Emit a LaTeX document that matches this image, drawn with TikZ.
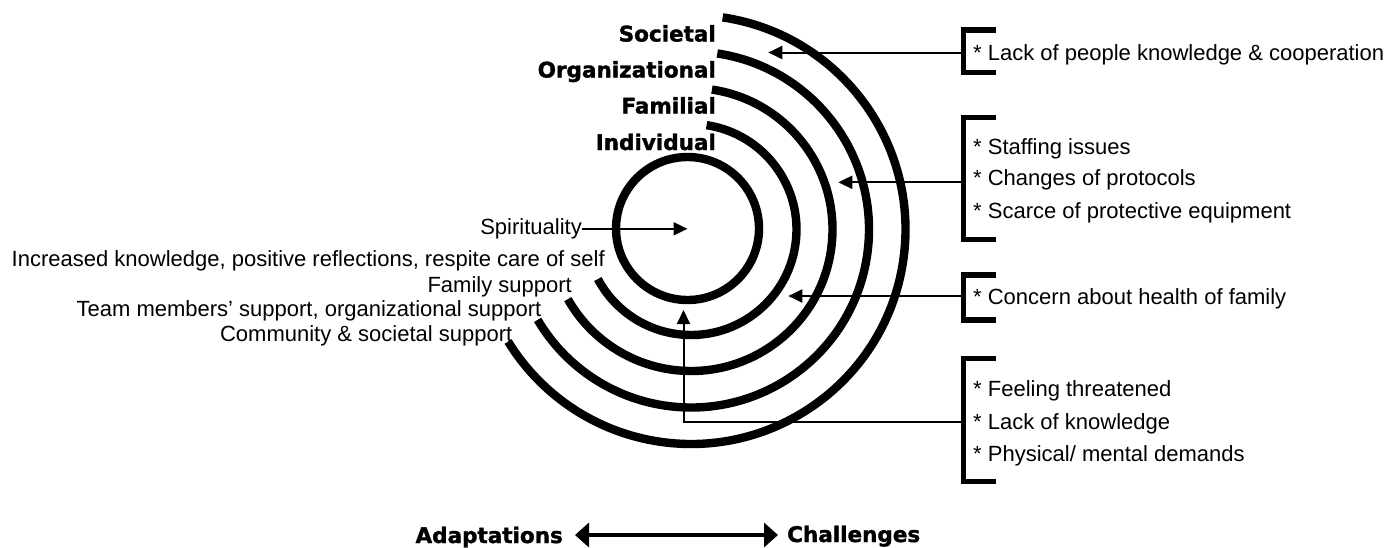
\documentclass[tikz,border=0pt]{standalone}
\usepackage{fontspec}
\setmainfont{Liberation Sans}
\newfontfamily\heavyfont{DejaVu Sans}[BoldFeatures={FakeBold=1.6}]
\usetikzlibrary{arrows.meta}

\begin{document}
\begin{tikzpicture}[x=1pt,y=-1pt,
  ring/.style={line width=8.4pt},
  pointer/.style={line width=2pt,-{Triangle[length=14pt,width=13pt]}},
  bracketline/.style={line width=5.3pt},
  level/.style={font=\heavyfont\bfseries\fontsize{21.5}{24}\selectfont,anchor=base east,inner sep=0pt},
  axislabel/.style={font=\heavyfont\bfseries\fontsize{21.5}{24}\selectfont,inner sep=0pt},
  note/.style={font=\fontsize{22}{26}\selectfont,anchor=base west,inner sep=0pt},
  support/.style={font=\fontsize{22}{26}\selectfont,anchor=base east,inner sep=0pt},
]
\useasboundingbox (0,0) rectangle (1387,547);

% centres of the core circle and of the surrounding arcs
\coordinate (core) at (687.5,228.5);
\coordinate (hub) at (691,229.5);

% core circle and the four open rings
\draw[ring] (core) circle[radius=71.5];
\foreach \r/\e in {105.5/152, 141.5/150.5, 178/149.5, 214.5/148.5}
  \draw[ring] (hub) ++(-81.5:\r) arc[start angle=-81.5, end angle=\e, radius=\r];

% level names
\node[level] (societal) at (716,41.5) {Societal};
\node[level] (organizational) at (716,77.5) {Organizational};
\node[level] (familial) at (716,113.5) {Familial};
\node[level] (individual) at (716,150) {Individual};

% adaptations on the left
\node[support] (spirit) at (582,234.5) {Spirituality};
\node[support] (selfcare) at (605,266.7) {Increased knowledge, positive reflections, respite care of self};
\node[support] (family) at (572,292) {Family support};
\node[support] (team) at (541.5,316.5) {Team members’ support, organizational support};
\node[support] (community) at (512.5,341) {Community \& societal support};

\draw[pointer] (spirit.east) -- (spirit.east -| core);

% challenges on the right
\node[note] (n1) at (973,60) {* Lack of people knowledge \& cooperation};
\node[note] (n2a) at (973,154) {* Staffing issues};
\node[note] (n2b) at (973,185.7) {* Changes of protocols};
\node[note] (n2c) at (973,218.3) {* Scarce of protective equipment};
\node[note] (n3) at (973,304) {* Concern about health of family};
\node[note] (n4a) at (973,396.7) {* Feeling threatened};
\node[note] (n4b) at (973,429) {* Lack of knowledge};
\node[note] (n4c) at (973,461) {* Physical/ mental demands};

% brackets
\draw[bracketline] (996,30) -| (963.5,72.7) -- (996,72.7);
\draw[bracketline] (996,117.5) -| (963.5,239.5) -- (996,239.5);
\draw[bracketline] (996,275) -| (963.5,320) -- (996,320);
\draw[bracketline] (996,358.3) -| (963.5,481.7) -- (996,481.7);

% bracket stems and the arrows into the rings
\coordinate (s1) at (963.5,52.5);
\coordinate (t1) at (768.3,52.5);
\coordinate (s2) at (963.5,182.3);
\coordinate (t2) at (838.3,182.3);
\coordinate (s3) at (963.5,296);
\coordinate (t3) at (788.3,296);
\coordinate (s4) at (963.5,421.7);
\coordinate (k4) at (683.5,421.7);
\coordinate (t4) at (683.5,310);
\draw[pointer] (s1) -- (t1);
\draw[pointer] (s2) -- (t2);
\draw[pointer] (s3) -- (t3);
\draw[pointer] (s4) -- (k4) -- (t4);

% axis at the bottom
\node[axislabel,anchor=base east] (adapt) at (563,543) {Adaptations};
\node[axislabel,anchor=base west] (chall) at (787,542) {Challenges};
\coordinate (axl) at (575,535);
\coordinate (axr) at (778,535);
\draw[line width=4pt,{Triangle[length=14pt,width=24pt]}-{Triangle[length=14pt,width=24pt]}] (axl) -- (axr);
\end{tikzpicture}
\end{document}
